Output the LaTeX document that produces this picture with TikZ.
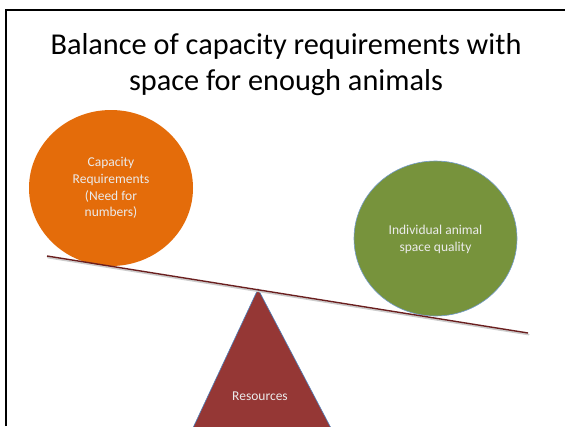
\documentclass[tikz,border=0pt]{standalone}
\usepackage{fontspec}
\usetikzlibrary{calc}
\setmainfont{Carlito}
\definecolor{orangeF}{HTML}{E46C0A}
\definecolor{greenF}{HTML}{77933C}
\definecolor{redF}{HTML}{953735}
\definecolor{blueL}{HTML}{4F81BD}
\definecolor{beamC}{HTML}{6A1F1F}
\tikzset{
  titletext/.style={font=\fontsize{30.3}{35}\selectfont, text=black, anchor=base},
  inner/.style={font=\fontsize{13.5}{16.7}\selectfont, text=white!92!black, align=center},
  frameline/.style={line width=2pt, black},
}
\begin{document}
\begin{tikzpicture}[x=1pt,y=-1pt]
\useasboundingbox (0,0) rectangle (565,426);
\fill[white] (0,0) rectangle (565,426);
% frame (cropped slide)
\coordinate (fl) at (6.2,426);
\coordinate (ftl) at (6.2,10.3);
\coordinate (ftr) at (566,10.3);
\draw[frameline] (fl) -- (ftl) -- (ftr);
% title
\node[titletext] (t1) at (286,54.5) {Balance of capacity requirements with};
\node[titletext] (t2) at (286,90) {space for enough animals};
% fulcrum triangle
\begin{scope}
\clip (0,0) rectangle (565,426);
\fill[redF, draw=blueL, line width=0.6pt] (258,289) -- (332,430) -- (192,430) -- cycle;
\end{scope}
\node[inner] (res) at (260,396) {Resources};
% circles
\fill[orangeF] (111,188) ellipse [x radius=82, y radius=78];
\node[inner] (cap) at (111,188) {Capacity\\Requirements\\(Need for\\numbers)};
\fill[greenF, draw=blueL!80, line width=0.6pt] (435.5,238.5) ellipse [x radius=81.5, y radius=77.5];
\node[inner] (ind) at (435.5,239.5) {Individual animal\\space quality};
% beam
\coordinate (bl) at (47,256);
\coordinate (br) at (528,333);
\draw[gray!40, line width=1.6pt, line cap=round] ($(bl)+(0.8,1.6)$) -- ($(br)+(0.8,1.6)$);
\draw[beamC, line width=1.4pt] (bl) -- (br);
\end{tikzpicture}
\end{document}
